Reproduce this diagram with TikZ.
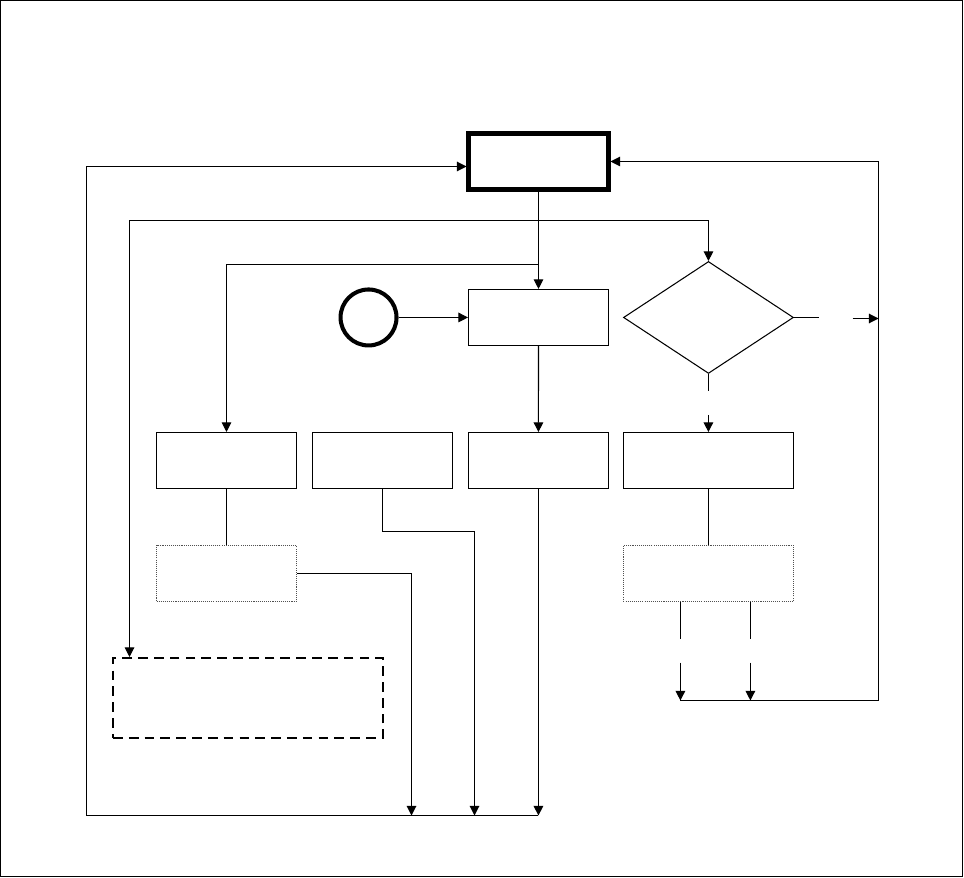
\documentclass[tikz,border=0pt]{standalone}
\usepackage{xcolor}
\usepackage{tikz}
\usetikzlibrary{arrows.meta,shapes.geometric}
\definecolor{flowGray}{HTML}{505050}

\begin{document}
\begin{tikzpicture}[x=0.02cm, y=-0.02cm, node distance=3.12cm, line width=0.6pt, >={Triangle[width=5.5pt,length=5.5pt]}, every node/.style={draw, inner sep=0pt, minimum width=2.8cm, minimum height=1.12cm}, dotbox/.style={draw=flowGray, dash pattern=on 0.6pt off 0.6pt}]

        \useasboundingbox (0,0) rectangle (964,878);
        \draw (0.5,0.5) rectangle (962.5,876.5);

        \node (tb) [line width=2.3pt] at (538.5,161.5) {};

        \node (mb) [below of=tb] {};

        \node (st) [circle, line width=2.3pt, minimum width=1.12cm, minimum height=1.12cm, left of=mb, xshift=-0.28cm] {};

        \node (dia) [diamond, minimum width=3.4cm, minimum height=2.24cm, right of=mb, xshift=0.28cm] {};

        \node (bA) at (226.5,460.5) {};
        \node (bB) [right of=bA] {};
        \node (bC) [right of=bB] {};
        \node (bD) [right of=bC, xshift=0.28cm, minimum width=3.4cm] {};

        \node (bA2) [dotbox, below of=bA, node distance=2.26cm] {};
        \node (bD2) [dotbox, below of=bD, node distance=2.26cm, minimum width=3.4cm] {};

        \node (dsh) [line width=1.15pt, dash pattern=on 5.5pt off 3.5pt, minimum width=5.4cm, minimum height=1.6cm] at (248,698) {};

        \coordinate (k1) at (tb |- 0,220.5);
        \coordinate (k2) at (tb |- 0,264.5);
        \coordinate (k3) at (474.5,531.5);
        \coordinate (bl) at (86.5,815.5);
        \coordinate (j1) at (411.5,815.5);
        \coordinate (j2) at (k3 |- bl);
        \coordinate (j3) at (bC |- bl);
        \coordinate (rj) at (878.5,318.5);
        \coordinate (rb) at (878.5,700.5);
        \coordinate (d1) at ([xshift=-0.56cm]bD2.south);
        \coordinate (d2) at ([xshift=0.84cm]bD2.south);

        \draw[->] (tb) -- (mb);
        \draw[->] (k1) -| (dia.north);
        \draw[->] (k1) -| ([xshift=0.35cm]dsh.north west);
        \draw[->] (k2) -| (bA.north);
        \draw[->] (st) -- (mb);
        \draw[->] (mb) -- (bC);

        \draw (dia.east) -- ++(25,0);
        \draw[->] (rj) ++(-26,0) -- (rj);
        \draw (dia.south) -- ++(0,17);
        \draw[->] (bD.north) ++(0,-17) -- (bD.north);

        \draw (bA) -- (bA2);
        \draw[->] (bA2.east) -| (j1);
        \draw[->] (bB.south) |- (k3) -- (j2);
        \draw[->] (bC) -- (j3);
        \draw[->] (j3) -- (bl) |- ([yshift=-0.1cm]tb.west);

        \draw (bD) -- (bD2);
        \draw (d1) -- ++(0,37);
        \draw (d2) -- ++(0,37);
        \draw[->] (d1 |- rb) ++(0,-38) -- (d1 |- rb);
        \draw[->] (d2 |- rb) ++(0,-38) -- (d2 |- rb);
        \draw[->] (d1 |- rb) -- (rb) |- (tb.east);
    \end{tikzpicture}
\end{document}
